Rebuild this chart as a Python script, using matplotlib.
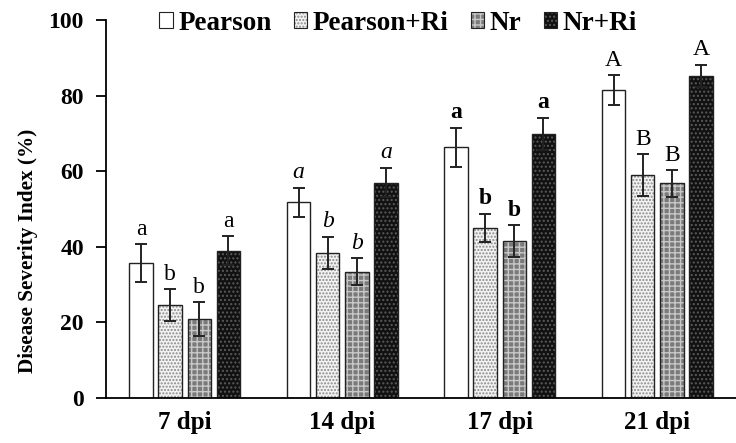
import numpy as np
import matplotlib.pyplot as plt
from matplotlib.patches import Patch

plt.rcParams['font.family'] = ['Liberation Serif', 'DejaVu Serif']
plt.rcParams['hatch.linewidth'] = 1.0

# datos
dias = ['7 dpi', '14 dpi', '17 dpi', '21 dpi']
tratamientos = ['Pearson', 'Pearson+Ri', 'Nr', 'Nr+Ri']

pearson = [35.7, 51.8, 66.3, 81.5]
pearson_err = [5.0, 3.8, 5.2, 3.9]
pearson_ri = [24.6, 38.4, 45.1, 59.0]
pearson_ri_err = [4.2, 4.3, 3.7, 5.5]
nr = [20.9, 33.4, 41.5, 56.8]
nr_err = [4.4, 3.6, 4.2, 3.5]
nr_ri = [39.0, 57.0, 69.8, 85.2]
nr_ri_err = [3.8, 3.9, 4.3, 3.0]

# letras de significancia por dia (Pearson, Pearson+Ri, Nr, Nr+Ri)
letras = [['a', 'b', 'b', 'a'],
          ['a', 'b', 'b', 'a'],
          ['a', 'b', 'b', 'a'],
          ['A', 'B', 'B', 'A']]
estilo_letras = [dict(style='normal', weight='normal'),
                 dict(style='italic', weight='normal'),
                 dict(style='normal', weight='bold'),
                 dict(style='normal', weight='normal')]

valores = [pearson, pearson_ri, nr, nr_ri]
errores = [pearson_err, pearson_ri_err, nr_err, nr_ri_err]

# relleno, color de trama, trama
estilos = [('white', 'white', ''),
           ('#f2f2f2', '#8a8a8a', '.....'),
           ('#7a7a7a', '#c8c8c8', '+++'),
           ('#111111', '#5a5a5a', '....')]

fig = plt.figure(figsize=(7.36, 4.43), dpi=100)
ax = fig.add_axes([106 / 736, 1 - 398 / 443, 630 / 736, 378 / 443])

x = np.arange(len(dias))
ancho = 0.15
paso = 0.185
handles = []
for i, (vals, errs) in enumerate(zip(valores, errores)):
    pos = x + (i - 1.5) * paso
    cara, trama_color, trama = estilos[i]
    ax.bar(pos, vals, ancho, color=cara, hatch=trama, edgecolor=trama_color, linewidth=0)
    ax.bar(pos, vals, ancho, fill=False, edgecolor='#222222', linewidth=1.0)
    ax.errorbar(pos, vals, yerr=errs, fmt='none', ecolor='#222222',
                elinewidth=1.4, capsize=4, capthick=1.4)
    for j in range(len(dias)):
        ax.text(pos[j], vals[j] + errs[j] + 1.2, letras[j][i], ha='center', va='bottom',
                fontsize=17, **estilo_letras[j])
    h1 = Patch(facecolor=cara, hatch=trama, edgecolor=trama_color, linewidth=0)
    h2 = Patch(fill=False, edgecolor='#222222', linewidth=0.8)
    handles.append((h1, h2))

ax.set_xlim(-0.5, 3.5)
ax.set_ylim(0, 100)
ax.set_yticks([0, 20, 40, 60, 80, 100])
ax.set_xticks(x)
ax.set_xticklabels(dias, fontsize=18, fontweight='bold')
ax.tick_params(axis='x', length=0, pad=9)
ax.tick_params(axis='y', direction='out', length=7, width=1.3, labelsize=17, pad=9)
for lab in ax.get_yticklabels():
    lab.set_fontweight('bold')
ax.set_ylabel('Disease Severity Index (%)', fontsize=15.3, fontweight='bold')
ax.yaxis.set_label_coords(-0.108, 0.39)
ax.spines['top'].set_visible(False)
ax.spines['right'].set_visible(False)
ax.spines['left'].set_linewidth(1.3)
ax.spines['bottom'].set_linewidth(1.3)
ax.patch.set_alpha(0)

fig.legend(handles, tratamientos, loc='center', bbox_to_anchor=(0.541, 0.948), ncol=4,
           frameon=False, prop=dict(size=19.5, weight='bold'), handlelength=0.5,
           handleheight=0.5, handletextpad=0.2, columnspacing=0.82, borderpad=0)

plt.savefig('out.png', dpi=100)
